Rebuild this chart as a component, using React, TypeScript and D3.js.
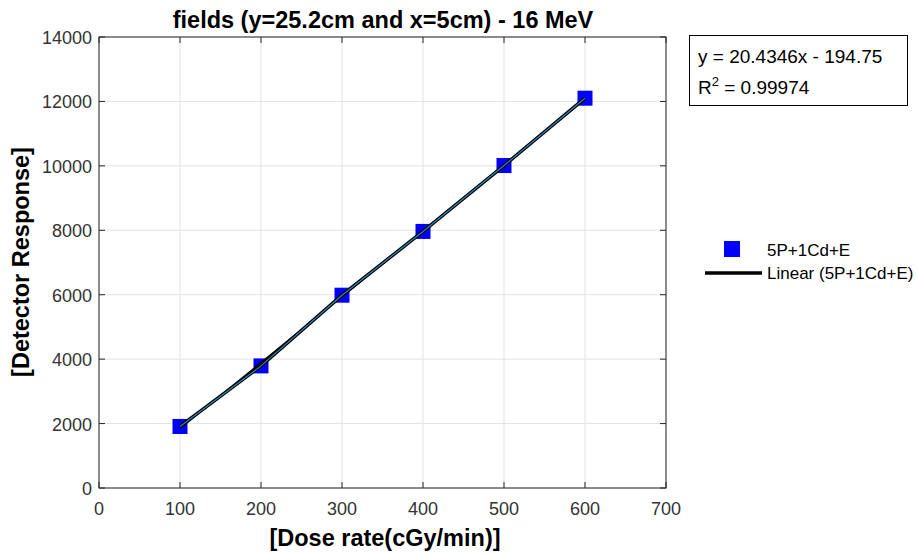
import React from 'react';
import * as d3 from 'd3';

// dose rate (cGy/min) and detector response
const doseRates = [100, 200, 300, 400, 500, 600];
const responses = [1910, 3790, 5985, 7965, 10010, 12100];
const xTicks = [0, 100, 200, 300, 400, 500, 600, 700];
const yTicks = [0, 2000, 4000, 6000, 8000, 10000, 12000, 14000];
const fitSlope = 20.4346;
const fitIntercept = -194.75;

const sans = '"Liberation Sans", Arial, sans-serif';

const App = () => {
  const left = 99, right = 666, top = 37, bottom = 488;
  const x = d3.scaleLinear().domain([0, 700]).range([left, right]);
  const y = d3.scaleLinear().domain([0, 14000]).range([bottom, top]);

  const pts: [number, number][] = doseRates.map((d, i) => [x(d), y(responses[i])]);
  const dataLine = d3.line()(pts) || '';
  const fitPts: [number, number][] = [100, 600].map(d => [x(d), y(fitSlope * d + fitIntercept)]);
  const fitLine = d3.line()(fitPts) || '';

  const axisColor = '#262626';

  return (
    <svg width={917} height={553} style={{ position: 'absolute', left: 0, top: 0, background: '#fff' }}>
      {/* grid */}
      {xTicks.map(t => (
        <line key={'gx' + t} x1={x(t)} x2={x(t)} y1={top} y2={bottom} stroke="#e3e3e3" strokeWidth={1} />
      ))}
      {yTicks.map(t => (
        <line key={'gy' + t} x1={left} x2={right} y1={y(t)} y2={y(t)} stroke="#e3e3e3" strokeWidth={1} />
      ))}

      {/* ticks inside box */}
      {xTicks.map(t => (
        <g key={'tx' + t}>
          <line x1={x(t)} x2={x(t)} y1={bottom} y2={bottom - 6} stroke={axisColor} />
          <line x1={x(t)} x2={x(t)} y1={top} y2={top + 6} stroke={axisColor} />
          <text x={x(t)} y={bottom + 27} textAnchor="middle" fontFamily={sans} fontSize={18} fill="#333">{t}</text>
        </g>
      ))}
      {yTicks.map(t => (
        <g key={'ty' + t}>
          <line x1={left} x2={left + 6} y1={y(t)} y2={y(t)} stroke={axisColor} />
          <line x1={right} x2={right - 6} y1={y(t)} y2={y(t)} stroke={axisColor} />
          <text x={left - 7} y={y(t) + 7} textAnchor="end" fontFamily={sans} fontSize={18} fill="#333">{t}</text>
        </g>
      ))}

      {/* markers */}
      {pts.map(([px, py], i) => (
        <rect key={'m' + i} x={px - 7.5} y={py - 7.5} width={15} height={15} fill="#0000ff" />
      ))}

      {/* trend + data lines */}
      <path d={dataLine} fill="none" stroke="#000" strokeWidth={3.5} />
      <path d={fitLine} fill="none" stroke="#000" strokeWidth={1.5} />
      <path d={dataLine} fill="none" stroke="#2f86b5" strokeWidth={1.2} />

      {/* box */}
      <rect x={left} y={top} width={right - left} height={bottom - top} fill="none" stroke={axisColor} strokeWidth={1} />

      {/* title and axis labels */}
      <text x={383} y={28} textAnchor="middle" fontFamily={sans} fontWeight="bold" fontSize={23.5} fill="#000">
        fields (y=25.2cm and x=5cm) - 16 MeV
      </text>
      <text x={385} y={546} textAnchor="middle" fontFamily={sans} fontWeight="bold" fontSize={23.5} fill="#000">
        [Dose rate(cGy/min)]
      </text>
      <text transform="translate(29,262) rotate(-90)" textAnchor="middle" fontFamily={sans} fontWeight="bold" fontSize={23.5} fill="#000">
        [Detector Response]
      </text>

      {/* equation box */}
      <rect x={689.5} y={35.5} width={218} height={70} fill="#fff" stroke="#000" strokeWidth={1} />
      <text x={698} y={63} fontFamily={sans} fontSize={19} fill="#000">y = 20.4346x - 194.75</text>
      <text x={698} y={94} fontFamily={sans} fontSize={19} fill="#000">
        R<tspan dy={-8} fontSize={13}>2</tspan><tspan dy={8}> = 0.99974</tspan>
      </text>

      {/* legend */}
      <rect x={724} y={241} width={16} height={16} fill="#0000ff" />
      <text x={767} y={256} fontFamily={sans} fontSize={17} fill="#000">5P+1Cd+E</text>
      <line x1={705} x2={762} y1={273} y2={273} stroke="#000" strokeWidth={3.5} />
      <text x={767} y={279} fontFamily={sans} fontSize={17} fill="#000">Linear (5P+1Cd+E)</text>
    </svg>
  );
};

export default App;
